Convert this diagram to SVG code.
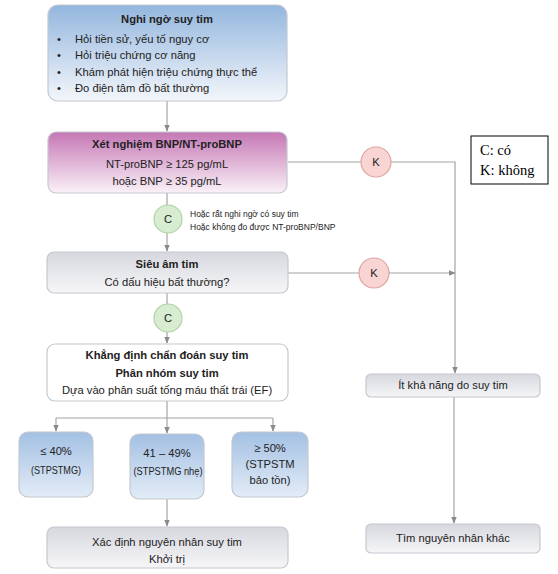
<svg xmlns="http://www.w3.org/2000/svg" width="558" height="574" viewBox="0 0 558 574">
<defs>
<linearGradient id="gBlue" x1="0" y1="0" x2="0" y2="1"><stop offset="0" stop-color="#93b6de"/><stop offset="1" stop-color="#f3f6fb"/></linearGradient>
<linearGradient id="gPink" x1="0" y1="0" x2="0" y2="1"><stop offset="0" stop-color="#c577b5"/><stop offset="1" stop-color="#faf1f7"/></linearGradient>
<linearGradient id="gGrey" x1="0" y1="0" x2="0" y2="1"><stop offset="0" stop-color="#d6d8de"/><stop offset="1" stop-color="#f6f6f8"/></linearGradient>
<linearGradient id="gBlue2" x1="0" y1="0" x2="0" y2="1"><stop offset="0" stop-color="#a3c0e3"/><stop offset="1" stop-color="#e3ecf7"/></linearGradient>
<marker id="arr" viewBox="0 0 10 10" refX="9" refY="5" markerWidth="7" markerHeight="7" orient="auto" markerUnits="userSpaceOnUse"><path d="M0,1 L10,5 L0,9 z" fill="#8a8a8a"/></marker>
</defs>
<style>
.box{stroke:#c4c8cf;stroke-width:1.2}
.t{font-family:"Liberation Sans",Arial,sans-serif;font-size:11.2px;fill:#222}
.b{font-weight:bold}
.c{text-anchor:middle}
.sm{font-size:8.5px}
.ln{fill:none;stroke:#a4a4a4;stroke-width:1.2}
.cc{fill:#d7ecd0;stroke:#afd3a2;stroke-width:1.2}
.kc{fill:#f8d4d2;stroke:#dfa3a1;stroke-width:1.2}
.lg{font-family:"Liberation Serif","Times New Roman",serif;font-size:14.5px;fill:#000}
</style>
<rect width="558" height="574" fill="#fff"/>
<g id="connectors">
<line class="ln" x1="167" y1="101" x2="167" y2="131" marker-end="url(#arr)"/>
<line class="ln" x1="167" y1="193" x2="167" y2="251" marker-end="url(#arr)"/>
<line class="ln" x1="167" y1="293" x2="167" y2="343" marker-end="url(#arr)"/>
<line class="ln" x1="167" y1="401" x2="167" y2="433" marker-end="url(#arr)"/>
<line class="ln" x1="56" y1="418" x2="273" y2="418"/>
<line class="ln" x1="56" y1="418" x2="56" y2="431" marker-end="url(#arr)"/>
<line class="ln" x1="273" y1="418" x2="273" y2="431" marker-end="url(#arr)"/>
<line class="ln" x1="167" y1="499" x2="167" y2="526" marker-end="url(#arr)"/>
<polyline class="ln" points="288,162 455,162 455,373" marker-end="url(#arr)"/>
<line class="ln" x1="288" y1="273" x2="455" y2="273" marker-end="url(#arr)"/>
<line class="ln" x1="454" y1="397" x2="454" y2="523" marker-end="url(#arr)"/>
</g>
<g id="n1">
<rect class="box" x="48" y="5" width="239" height="96" rx="10" fill="url(#gBlue)"/>
<text class="t b c" x="167" y="23" font-size="12">Nghi ngờ suy tim</text>
<text class="t" x="57" y="43">•</text><text class="t" x="75" y="43">Hỏi tiền sử, yếu tố nguy cơ</text>
<text class="t" x="57" y="59">•</text><text class="t" x="75" y="59">Hỏi triệu chứng cơ năng</text>
<text class="t" x="57" y="76">•</text><text class="t" x="75" y="76">Khám phát hiện triệu chứng thực thể</text>
<text class="t" x="57" y="92">•</text><text class="t" x="75" y="92">Đo điện tâm đồ bất thường</text>
</g>
<g id="n2">
<rect class="box" x="48" y="132" width="239" height="61" rx="8" fill="url(#gPink)"/>
<text class="t b c" x="167" y="148" font-size="11.5">Xét nghiệm BNP/NT-proBNP</text>
<text class="t c" x="167" y="168">NT-proBNP ≥ 125 pg/mL</text>
<text class="t c" x="167" y="185">hoặc BNP  ≥ 35 pg/mL</text>
</g>
<g id="c1">
<circle class="cc" cx="168" cy="219" r="14"/>
<text class="t c" x="168" y="223" font-size="12">C</text>
<text class="t sm" x="190" y="217">Hoặc rất nghi ngờ có suy tim</text>
<text class="t sm" x="190" y="230">Hoặc không đo được NT-proBNP/BNP</text>
</g>
<g id="n3">
<rect class="box" x="47" y="252" width="241" height="41" rx="7" fill="url(#gGrey)"/>
<text class="t b c" x="167" y="268">Siêu âm tim</text>
<text class="t c" x="167" y="286">Có dấu hiệu bất thường?</text>
</g>
<g id="c2">
<circle class="cc" cx="168" cy="318" r="14"/>
<text class="t c" x="168" y="322" font-size="12">C</text>
</g>
<g id="k1">
<circle class="kc" cx="376" cy="162" r="15"/>
<text class="t c" x="376" y="166" font-size="12">K</text>
</g>
<g id="k2">
<circle class="kc" cx="374" cy="273" r="15"/>
<text class="t c" x="374" y="277" font-size="12">K</text>
</g>
<g id="n4">
<rect class="box" x="47" y="344" width="241" height="57" rx="8" fill="#fff"/>
<text class="t b c" x="167" y="359">Khẳng định chẩn đoán suy tim</text>
<text class="t b c" x="167" y="377">Phân nhóm suy tim</text>
<text class="t c" x="167" y="394">Dựa vào phân suất tống máu thất trái (EF)</text>
</g>
<g id="n5a">
<rect class="box" x="19" y="432" width="74" height="65" rx="9" fill="url(#gBlue2)"/>
<text class="t c" x="56" y="455" font-size="12">≤ 40%</text>
<text class="t c" x="56" y="474" font-size="10.5" textLength="50" lengthAdjust="spacingAndGlyphs">(STPSTMG)</text>
</g>
<g id="n5b">
<rect class="box" x="130" y="434" width="74" height="65" rx="9" fill="url(#gBlue2)"/>
<text class="t c" x="167" y="457" font-size="12">41 – 49%</text>
<text class="t c" x="168" y="475" font-size="10.5" textLength="69" lengthAdjust="spacingAndGlyphs">(STPSTMG nhẹ)</text>
</g>
<g id="n5c">
<rect class="box" x="232" y="432" width="76" height="65" rx="9" fill="url(#gBlue2)"/>
<text class="t c" x="270" y="452" font-size="12">≥ 50%</text>
<text class="t c" x="270" y="468" font-size="11.5">(STPSTM</text>
<text class="t c" x="270" y="484" font-size="11.5">bảo tồn)</text>
</g>
<g id="n6">
<rect class="box" x="47" y="527" width="241" height="41" rx="7" fill="url(#gGrey)"/>
<text class="t c" x="167" y="546">Xác định nguyên nhân suy tim</text>
<text class="t c" x="167" y="563">Khởi trị</text>
</g>
<g id="n7">
<rect class="box" x="366" y="374" width="174" height="23" rx="5" fill="url(#gGrey)"/>
<text class="t c" x="453" y="389">Ít khả năng do suy tim</text>
</g>
<g id="n8">
<rect class="box" x="366" y="524" width="174" height="29" rx="5" fill="url(#gGrey)"/>
<text class="t c" x="453" y="542">Tìm nguyên nhân khác</text>
</g>
<g id="legend">
<rect x="471" y="136" width="77" height="48" fill="#fff" stroke="#000" stroke-width="1"/>
<text class="lg" x="480" y="155">C: có</text>
<text class="lg" x="480" y="175">K: không</text>
</g>
</svg>
